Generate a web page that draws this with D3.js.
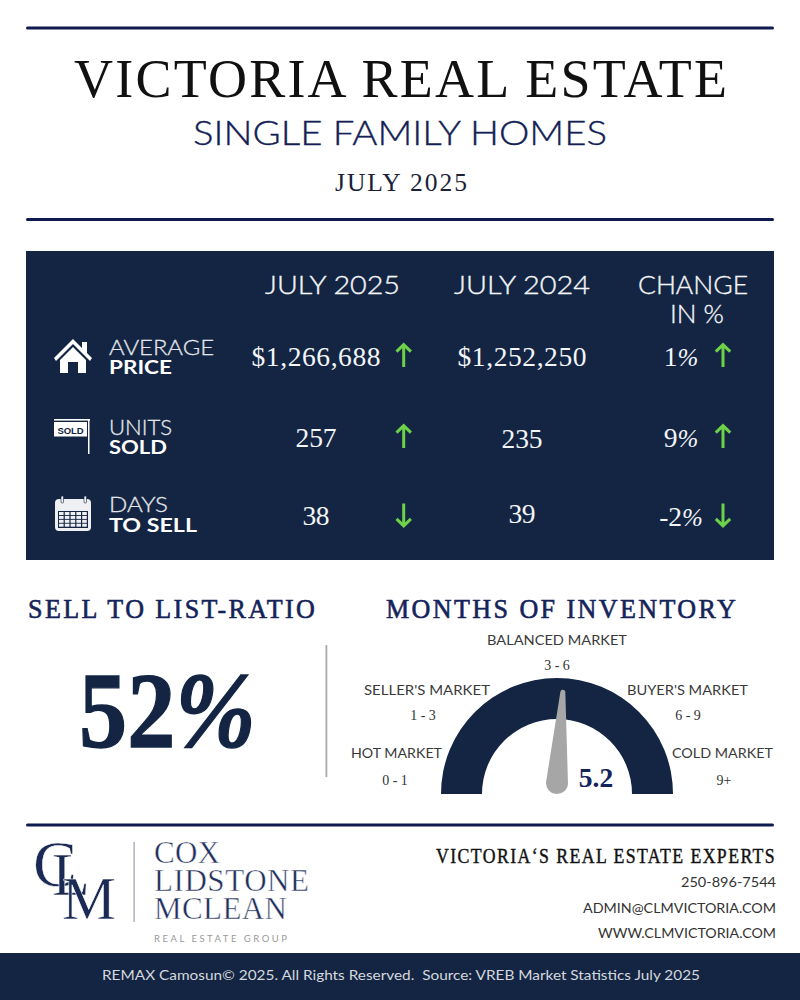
<!DOCTYPE html>
<html><head><meta charset="utf-8">
<script src="https://cdn.jsdelivr.net/npm/d3@7/dist/d3.min.js"></script>
<style>html,body{margin:0;padding:0;background:#fff}svg{display:block}</style>
</head><body><svg id="c" width="800" height="1000"></svg>
<script>
const metricTop = ["AVERAGE","UNITS","DAYS"];
const metricBottom = ["PRICE","SOLD","TO SELL"];
const values2025 = ["$1,266,688","257","38"];
const values2024 = ["$1,252,250","235","39"];
const changes = ["1","9","-2"];
const directions = ["up","up","down"];
const markets = ["HOT MARKET","SELLER'S MARKET","BALANCED MARKET","BUYER'S MARKET","COLD MARKET"];
const marketRanges = ["0 - 1","1 - 3","3 - 6","6 - 9","9+"];
const inventoryBreaks = [0,1,3,6,9,14];
const needleAngles = [-90,-62,-20,12.3,50,90];
const monthsOfInventory = 5.2;
const sellToList = "52";

const NAVY="#132543", INK="#141f55", WHITE="#f4f5f7";
const SERIF="'Liberation Serif',serif", SANS="'Lato','Open Sans',sans-serif";
const svg=d3.select("#c");
function T(s,o){
  const t=svg.append("text").text(s).attr("x",o.x).attr("y",o.y)
    .attr("font-family",o.f||SANS).attr("font-size",o.s).attr("fill",o.c||INK)
    .attr("font-weight",o.w||400).attr("text-anchor",o.a||"start");
  if(o.len){t.attr("textLength",o.len).attr("lengthAdjust",o.adj||(o.f?"spacing":"spacingAndGlyphs"));}
  if(o.sw){t.attr("stroke",o.sc||o.c||INK).attr("stroke-width",o.sw);}
  return t;
}
// spaced serif caps squeezed horizontally to a target width
function spaced(s,x,y,size,ls,width,color,sw){
  const t=T(s,{x:0,y:0,s:size,f:SERIF,c:color,sw:sw}).attr("letter-spacing",ls);
  const k=width/(t.node().getComputedTextLength()-ls);
  t.attr("transform",`translate(${x},${y}) scale(${k},1)`);
  return t;
}
function rule(y){svg.append("rect").attr("x",26).attr("y",y-1.5).attr("width",748).attr("height",3).attr("rx",1.5).attr("fill","#0f1a50");}
rule(28);rule(219.5);rule(825);

T("VICTORIA REAL ESTATE",{x:400.5,y:97,s:54,f:SERIF,a:"middle",c:"#111",len:653});
T("SINGLE FAMILY HOMES",{x:400,y:145,s:33.5,w:300,a:"middle",c:"#141f55",len:414,sw:.35});
T("JULY 2025",{x:401,y:190.7,s:25.5,f:SERIF,a:"middle",c:"#1a1f3a",len:132});

svg.append("rect").attr("x",26).attr("y",251).attr("width",748).attr("height",309).attr("fill",NAVY);

// column heads
T("JULY 2025",{x:332.5,y:294,s:25,w:300,a:"middle",c:WHITE,len:135,sw:.35});
T("JULY 2024",{x:522,y:294,s:25,w:300,a:"middle",c:WHITE,len:136,sw:.35});
T("CHANGE",{x:693,y:294,s:25,w:300,a:"middle",c:WHITE,len:110,sw:.35});
T("IN %",{x:697,y:323,s:25,w:300,a:"middle",c:WHITE,len:54,sw:.35});

// rows
const rowTopY=[355,435,511.5], rowBotY=[374,454,531.5];
const topLen=[105,63,59], botLen=[63,58,88];
const valY=[366,447,525], val24Y=[366,447.5,523], chY=[366,447,525.5];
const arrowY=[355.5,436.5,515], arrow2Y=[355.5,436.5,515];
const lenVal=[129,41,27];
function pct(s,x,y){
  const t=T(s,{x:x,y:y,s:27.5,f:SERIF,a:"middle",c:WHITE});
  t.append("tspan").attr("font-style","italic").attr("font-size",25).text("%");
}
metricTop.forEach((s,i)=>{
  T(s,{x:109,y:rowTopY[i],s:21.7,w:300,c:"#e3e6ea",len:topLen[i],sw:.3});
  T(metricBottom[i],{x:109,y:rowBotY[i],s:19.5,w:700,c:"#fff",len:botLen[i]});
  T(values2025[i],{x:316,y:valY[i],s:27.5,f:SERIF,a:"middle",c:WHITE,len:lenVal[i]});
  T(values2024[i],{x:522,y:val24Y[i],s:27.5,f:SERIF,a:"middle",c:WHITE,len:lenVal[i]});
  pct(changes[i],681,chY[i]);
  [[403.7,arrowY[i]],[723,arrow2Y[i]]].forEach(([x,y])=>{
    const d=directions[i]==="up"?1:-1;
    svg.append("path").attr("transform",`translate(${x},${y}) scale(1,${d})`)
      .attr("d","M0,-10.5V11.5M-7.2,-3.8L0,-10.8L7.2,-3.8").attr("fill","none")
      .attr("stroke","#6ed14a").attr("stroke-width",3);
  });
});

// icons
svg.append("path").attr("fill","#fff").attr("d","M54,358L73,339L82,348V342H87V353L92,358L90,361L73,344L56,361ZM60,360L73,347L86,360V373H78V362H68V373H60Z");
svg.append("rect").attr("x",54).attr("y",419).attr("width",36).attr("height",1.6).attr("fill","#fff");
svg.append("rect").attr("x",54).attr("y",422).attr("width",33).attr("height",14.5).attr("fill","#fff");
svg.append("rect").attr("x",88).attr("y",419).attr("width",1.5).attr("height",35).attr("fill","#fff");
T("SOLD",{x:57.5,y:433.5,s:9.5,w:700,c:NAVY,f:"'Liberation Sans',sans-serif",len:26});
svg.append("rect").attr("x",55).attr("y",499).attr("width",36).attr("height",32).attr("rx",4).attr("fill","#eef0f3");
svg.append("rect").attr("x",58).attr("y",511).attr("width",30).attr("height",17).attr("fill",NAVY);
d3.range(4).forEach(r=>d3.range(5).forEach(c=>{
  svg.append("rect").attr("x",59+c*5.8).attr("y",512+r*3.9).attr("width",4.6).attr("height",3).attr("fill","#eef0f3");
}));
[61,84].forEach(x=>svg.append("rect").attr("x",x).attr("y",496).attr("width",2.5).attr("height",7).attr("rx",1).attr("fill","#eef0f3").attr("stroke",NAVY).attr("stroke-width",.6));

// section titles
spaced("SELL TO LIST-RATIO",28,617.5,27,2.5,287,"#14235a",.6);
spaced("MONTHS OF INVENTORY",386,617.5,27,2.5,350,"#14235a",.6);
const big=T(sellToList,{x:0,y:0,s:107,f:SERIF,w:700,c:NAVY,sw:1.3}).attr("transform","translate(79,747) scale(.9,1)");
big.append("tspan").attr("font-style","italic").text("%");
svg.append("rect").attr("x",325.5).attr("y",645).attr("width",1.8).attr("height",132).attr("fill","#a9a9a9");

// gauge
const cx=557,cy=794,rO=116,rI=75;
const angle=d3.scaleLinear().domain(inventoryBreaks).range(needleAngles);
const toRad=d=>d*Math.PI/180;
const gauge=d3.arc().innerRadius(rI).outerRadius(rO);
svg.append("path").attr("transform",`translate(${cx},${cy})`).attr("fill",NAVY)
  .attr("d",gauge({startAngle:toRad(angle(inventoryBreaks[0])),endAngle:toRad(angle(inventoryBreaks[inventoryBreaks.length-1]))}));
const nLen=93, baseY=-11;
const needle=svg.append("g").attr("transform",`translate(${cx},${cy+baseY}) rotate(${angle(monthsOfInventory)})`);
needle.append("path").attr("fill","#a6a6a6").attr("d",`M-11,0L-2.5,${-nLen+2}A2.5,2.5 0 0 1 2.5,${-nLen+2}L11,0A11,11 0 0 1 -11,0Z`);
T(monthsOfInventory.toFixed(1),{x:596,y:787,s:27.5,f:SERIF,w:700,a:"middle",c:"#14235a"});

const mX=[396.5,427,557,687.5,722.5], mY=[758,695,645,695,758], mLen=[91,126,140,121,101];
const rX=[395,423,557,688,724], rY=[785,720,670,720,785];
markets.forEach((s,i)=>{
  T(s,{x:mX[i],y:mY[i],s:13,a:"middle",c:"#3a3a3a",len:mLen[i]});
  T(marketRanges[i],{x:rX[i],y:rY[i],s:14,f:SERIF,a:"middle",c:"#333"});
});

// logo
const thin={f:SERIF,c:"#1b2a55",sw:.5,sc:"#fff"};
T("C",{x:33,y:886,s:66,...thin});
T("L",{x:52,y:895,s:62,...thin});
T("M",{x:62,y:919,s:62,...thin,len:54,adj:"spacingAndGlyphs"});
svg.append("rect").attr("x",133.5).attr("y",842).attr("width",1.2).attr("height",80).attr("fill","#9aa0ad");
const logoLines=["COX","LIDSTONE","MCLEAN"], logoY=[863,891,919], logoLen=[66,155,133];
logoLines.forEach((s,i)=>T(s,{x:154,y:logoY[i],s:31,f:SERIF,c:"#1f2f5c",sw:.45,sc:"#fff",len:logoLen[i]}));
T("REAL ESTATE GROUP",{x:154,y:942,s:9.5,c:"#9a9a9a",len:133,adj:"spacing"});

// contact
spaced("VICTORIA\u2018S REAL ESTATE EXPERTS",436,862.7,20,1.6,339,"#111",.4);
const contacts=["250-896-7544","ADMIN@CLMVICTORIA.COM","WWW.CLMVICTORIA.COM"], cY=[887,913,938], cLen=[95,193,178];
contacts.forEach((s,i)=>T(s,{x:776,y:cY[i],s:14,a:"end",c:"#333",len:cLen[i]}));

// footer
svg.append("rect").attr("x",0).attr("y",953).attr("width",800).attr("height",47).attr("fill",NAVY);
T("REMAX Camosun\u00a9 2025. All Rights Reserved.  Source: VREB Market Statistics July 2025",{x:401,y:980,s:13.5,a:"middle",c:"#d5d8de",len:598}).attr("xml:space","preserve");
</script></body></html>
